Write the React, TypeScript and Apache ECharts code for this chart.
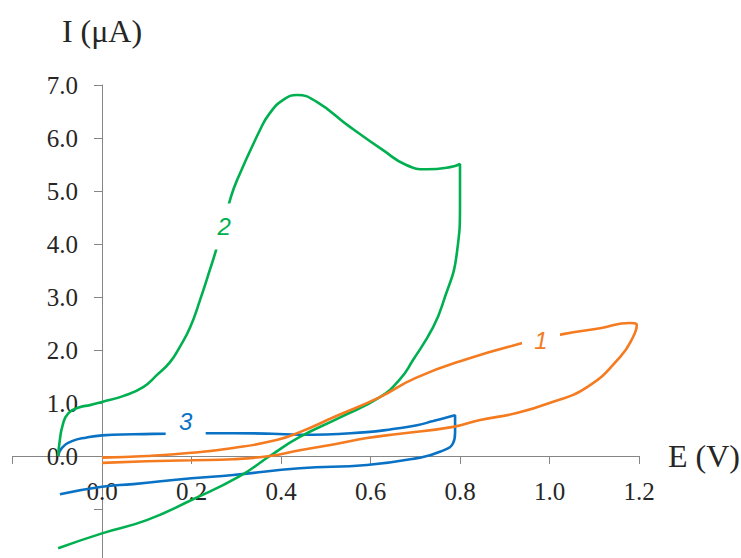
import React, { useEffect, useRef } from "react";
import * as echarts from "echarts";

// Curve 1 (orange)
const curve1E = [0, 0.1, 0.2, 0.293, 0.39, 0.442, 0.52, 0.621, 0.7, 0.816, 0.94, 1.03, 1.113, 1.18, 1.195, 1.187, 1.158, 1.084, 1.0, 0.927, 0.845, 0.785, 0.666, 0.592, 0.52, 0.442, 0.375, 0.293, 0.2, 0.1, 0];
const curve1I = [-0.03, 0.0, 0.06, 0.15, 0.3, 0.45, 0.74, 1.11, 1.47, 1.83, 2.13, 2.3, 2.41, 2.51, 2.47, 2.25, 1.87, 1.3, 1.0, 0.81, 0.68, 0.55, 0.42, 0.34, 0.22, 0.11, 0.0, -0.06, -0.08, -0.1, -0.13];

// Curve 2 (green)
const curve2E = [-0.098, -0.095, -0.088, -0.075, -0.05, -0.027, 0, 0.047, 0.092, 0.123, 0.152, 0.174, 0.197, 0.219, 0.241, 0.255, 0.286, 0.302, 0.353, 0.375, 0.405, 0.436, 0.48, 0.554, 0.628, 0.68, 0.726, 0.778, 0.8, 0.8, 0.793, 0.762, 0.74, 0.695, 0.666, 0.621, 0.53, 0.442, 0.375, 0.306, 0.2, 0.1, 0, -0.098];
const curve2I = [0, 0.25, 0.58, 0.81, 0.92, 0.96, 1.02, 1.13, 1.3, 1.53, 1.77, 2.06, 2.43, 2.94, 3.51, 3.89, 4.83, 5.21, 6.15, 6.47, 6.72, 6.81, 6.68, 6.21, 5.77, 5.49, 5.41, 5.45, 5.51, 4.77, 3.83, 2.89, 2.43, 1.81, 1.45, 1.11, 0.72, 0.36, 0.0, -0.39, -0.83, -1.21, -1.46, -1.74];

// Curve 3 (blue)
const curve3E = [-0.098, -0.09, -0.067, -0.034, 0, 0.07, 0.145, 0.23, 0.293, 0.38, 0.442, 0.592, 0.65, 0.704, 0.74, 0.78, 0.789, 0.789, 0.785, 0.755, 0.704, 0.592, 0.442, 0.293, 0.2, 0.07, 0, -0.094];
const curve3I = [0, 0.15, 0.28, 0.35, 0.39, 0.41, 0.42, 0.43, 0.43, 0.42, 0.4, 0.45, 0.51, 0.58, 0.66, 0.75, 0.77, 0.45, 0.25, 0.08, -0.04, -0.17, -0.23, -0.36, -0.42, -0.53, -0.58, -0.72];

// Curve labels
const labelTexts = ["1", "2", "3"];
const labelE = [0.981, 0.273, 0.187];
const labelI = [2.17, 4.33, 0.66];

// Axes
const xMin = -0.2;
const xMax = 1.2;
const xStep = 0.2;
const yMin = -2;
const yMax = 7;
const yStep = 1;
const xName = "E (V)";
const yName = "I (\u03bcA)";

const colors = ["#F47B20", "#00B050", "#0A72C4"];

export default function App() {
  const ref = useRef<HTMLDivElement>(null);
  useEffect(() => {
    document.body.style.margin = "0";
    const chart = echarts.init(ref.current!, null, { renderer: "svg" });
    const pairs = (e: number[], i: number[]) => e.map((v, k) => [v, i[k]]);
    const curves = [
      { e: curve3E, i: curve3I, color: colors[2] },
      { e: curve2E, i: curve2I, color: colors[1] },
      { e: curve1E, i: curve1I, color: colors[0] },
    ];
    const axisColor = "#868686";
    const textColor = "#262626";
    const serif = "'Liberation Serif', 'Times New Roman', serif";
    const labelSizes = [
      { size: [38, 22], offset: [0, 0] },
      { size: [22, 46], offset: [0, 0] },
      { size: [40, 30], offset: [0, 4] },
    ];
    chart.setOption({
      animation: false,
      grid: { left: 12.5, top: 85, width: 626.5, height: 477, containLabel: false, outerBoundsMode: "none" },
      xAxis: {
        type: "value",
        min: xMin,
        max: xMax,
        interval: xStep,
        name: xName,
        nameLocation: "end",
        nameGap: 29,
        nameTextStyle: { fontFamily: serif, fontSize: 32, color: textColor, padding: [8, 0, 0, 0] },
        axisLine: { onZero: true, lineStyle: { color: axisColor, width: 1 } },
        axisTick: { show: true, length: 8, lineStyle: { color: axisColor } },
        splitLine: { show: false },
        axisLabel: {
          margin: -83,
          fontFamily: serif,
          fontSize: 25,
          color: textColor,
          showMinLabel: true,
          showMaxLabel: true,
          formatter: (v: number) => (v < -0.01 ? "" : v.toFixed(1)),
        },
      },
      yAxis: {
        type: "value",
        min: yMin,
        max: yMax,
        interval: yStep,
        name: yName,
        nameLocation: "end",
        nameGap: 38,
        nameTextStyle: { fontFamily: serif, fontSize: 32, color: textColor, align: "center" },
        axisLine: { onZero: true, lineStyle: { color: axisColor, width: 1 } },
        axisTick: { show: true, length: 8, lineStyle: { color: axisColor } },
        splitLine: { show: false },
        axisLabel: {
          margin: -65.5,
          fontFamily: serif,
          fontSize: 25,
          color: textColor,
          formatter: (v: number) => (v < -0.01 ? "" : v.toFixed(1)),
        },
      },
      series: [
        ...curves.map((c) => ({
          type: "line",
          data: pairs(c.e, c.i),
          symbol: "none",
          showSymbol: false,
          smooth: 0.5,
          silent: true,
          clip: false,
          lineStyle: { color: c.color, width: 2.6 },
          z: 2,
        })),
        {
          type: "scatter",
          silent: true,
          z: 5,
          data: labelTexts.map((t, k) => ({
            name: t,
            value: [labelE[k], labelI[k]],
            symbol: "rect",
            symbolSize: labelSizes[k].size,
            symbolOffset: labelSizes[k].offset,
            itemStyle: { color: "#ffffff", opacity: 1 },
            label: {
              show: true,
              position: "inside",
              offset: [-labelSizes[k].offset[0], -labelSizes[k].offset[1]],
              formatter: t,
              color: colors[k],
              fontStyle: "italic",
              fontFamily: "'Liberation Sans', Arial, sans-serif",
              fontSize: 24,
            },
          })),
        },
      ],
    });
    return () => chart.dispose();
  }, []);
  return <div ref={ref} style={{ width: 741, height: 558 }} />;
}
